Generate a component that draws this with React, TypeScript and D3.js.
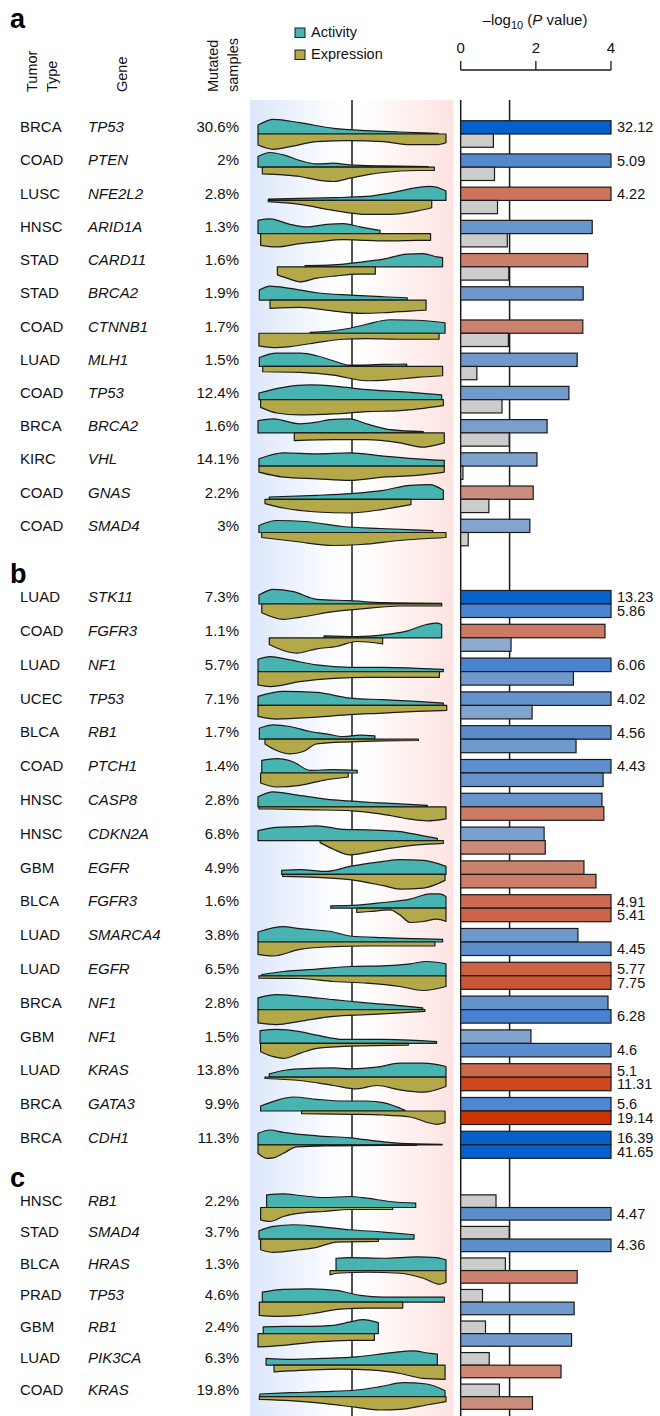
import React from "react";
import * as d3 from "d3";

const width = 660;
const height = 1416;

// rows, grouped in panels a / b / c
const panels = ["a", "b", "c"];
const panelSizes = [13, 17, 7];

const tumorTypes = [
  "BRCA", "COAD", "LUSC", "HNSC", "STAD", "STAD", "COAD", "LUAD", "COAD", "BRCA", "KIRC", "COAD", "COAD",
  "LUAD", "COAD", "LUAD", "UCEC", "BLCA", "COAD", "HNSC", "HNSC", "GBM", "BLCA", "LUAD", "LUAD", "BRCA", "GBM", "LUAD", "BRCA", "BRCA",
  "HNSC", "STAD", "BLCA", "PRAD", "GBM", "LUAD", "COAD",
];
const genes = [
  "TP53", "PTEN", "NFE2L2", "ARID1A", "CARD11", "BRCA2", "CTNNB1", "MLH1", "TP53", "BRCA2", "VHL", "GNAS", "SMAD4",
  "STK11", "FGFR3", "NF1", "TP53", "RB1", "PTCH1", "CASP8", "CDKN2A", "EGFR", "FGFR3", "SMARCA4", "EGFR", "NF1", "NF1", "KRAS", "GATA3", "CDH1",
  "RB1", "SMAD4", "HRAS", "TP53", "RB1", "PIK3CA", "KRAS",
];
const mutatedPct = [
  30.6, 2, 2.8, 1.3, 1.6, 1.9, 1.7, 1.5, 12.4, 1.6, 14.1, 2.2, 3,
  7.3, 1.1, 5.7, 7.1, 1.7, 1.4, 2.8, 6.8, 4.9, 1.6, 3.8, 6.5, 2.8, 1.5, 13.8, 9.9, 11.3,
  2.2, 3.7, 1.3, 4.6, 2.4, 6.3, 19.8,
];

// signed -log10(P): negative = lower (blue), positive = higher (red)
const activityP = [
  -32.12, -5.09, 4.22, -3.5, 3.38, -3.26, 3.25, -3.1, -2.88, -2.3, -2.03, 1.93, -1.84,
  -13.23, 3.84, -6.06, -4.02, -4.56, -4.43, -3.76, -2.22, 3.28, 4.91, -3.12, 5.77, -3.92, -1.87, 5.1, -5.6, -16.39,
  0.94, 1.29, 1.19, 0.58, 0.66, 0.76, 1.03,
];
const expressionP = [
  0.87, 0.9, 0.98, 1.24, 1.28, 0, 1.27, 0.43, 1.1, 1.29, 0.06, 0.75, 0.2,
  -5.86, -1.34, -3.0, -1.9, -3.07, -3.79, 3.81, 2.25, 3.6, 5.41, -4.45, 7.75, -6.28, -4.6, 11.31, 19.14, -41.65,
  -4.47, -4.36, 3.1, -3.02, -2.95, 2.67, 1.91,
];
const pTicks = [0, 2, 4];

// half-violin densities: [score (0-100), density]
const activityViolins = [
  [[0, 9], [8.2, 14.7], [22.3, 11.3], [40.1, 5.7], [57.8, 3.3], [75.5, 2], [95.9, 0.7]],
  [[0, 10.7], [6.4, 14.7], [13.5, 12.3], [22.3, 6.7], [31.2, 3.3], [40.1, 4], [48.9, 2.3], [66.7, 1.3], [90.6, 0.7]],
  [[5.5, 1.3], [22.3, 2], [40.1, 2.7], [57.8, 4], [70.2, 7.3], [84.4, 12.7], [91.5, 14], [98.6, 10.7], [100, 9.3]],
  [[0, 13.3], [6.4, 14.7], [17, 9.3], [25.9, 6.7], [36.5, 9.3], [45.4, 10], [54.3, 6.7], [64.9, 3.3]],
  [[25, 1.3], [40.1, 2], [52.5, 4.3], [66.7, 7.7], [79.1, 12.7], [87.9, 13.3], [95, 10], [98.2, 9.3]],
  [[0.7, 10], [6.4, 14], [17, 11.7], [31.2, 7.3], [48.9, 5], [66.7, 3.3], [79.4, 2.3]],
  [[27.7, 1], [40.1, 2.5], [48.9, 5], [57.8, 9], [70.2, 13.5], [84.4, 13], [99.5, 10.5]],
  [[0.7, 9], [9.9, 13.3], [22.3, 13.3], [31.2, 10.7], [40.1, 5.7], [48.9, 1.3], [66.7, 2], [79.1, 2.3]],
  [[0.5, 6.7], [13.5, 12.3], [27.7, 14.7], [41.8, 13.3], [57.8, 10], [75.5, 8], [97.7, 4.7]],
  [[0, 12.3], [8.2, 14], [22.3, 9], [31.2, 10.7], [38.3, 13.3], [48.9, 14], [57.8, 9], [70.2, 3.3], [87.9, 1.3]],
  [[0.5, 7.3], [13.5, 13.3], [31.2, 12.3], [48.9, 13.3], [66.7, 10], [84.4, 7.3], [99.1, 5.7]],
  [[6, 2.3], [31.2, 4], [48.9, 5.7], [66.7, 9], [80.9, 14], [91.5, 14.7], [98.6, 9]],
  [[0.5, 7], [10, 12], [25, 11], [45, 6], [65, 4], [93, 2]],

  [[0.5, 9], [8.2, 14.7], [18.8, 12.3], [31.2, 4.7], [48.9, 3.3], [66.7, 1.3], [97.7, 0.7]],
  [[35.1, 2], [52.5, 1.3], [66.7, 3], [79.1, 6.7], [89.7, 13.3], [95, 14.7], [97.7, 13.3]],
  [[0, 12.3], [6.4, 15], [17, 11.7], [31.2, 6.7], [48.9, 4.3], [66.7, 4.3], [84.4, 3.3], [98.6, 2.3]],
  [[0, 9], [13.5, 14], [31.2, 13], [48.9, 7.3], [66.7, 5.7], [84.4, 4], [98.6, 2.3]],
  [[0.7, 11], [8.2, 14.3], [17, 12.7], [27.7, 7.7], [36.5, 5.3], [45.4, 2.7], [54.3, 4], [62.2, 3.3]],
  [[2, 12.7], [9.9, 14.3], [18.8, 11], [27.7, 2.7], [40.1, 3.3], [52.8, 2.7]],
  [[0, 10], [8, 15], [20, 12], [35, 8], [55, 5], [75, 3], [90.1, 1.5]],
  [[0, 10], [9.9, 13.3], [22.3, 14], [31.2, 14.7], [45.4, 11.3], [57.8, 10.7], [75.5, 9], [87.9, 4.7], [95.4, 2.3]],
  [[12.6, 4], [22.3, 4.7], [36.5, 3], [48.9, 8], [66.7, 13], [75.5, 14.7], [87.9, 14], [100, 8]],
  [[38.7, 2.3], [52.5, 3], [66.7, 5.7], [80.9, 9], [91.5, 14.3], [96.8, 14.3], [100, 11.7]],
  [[0, 10], [13.5, 15.3], [22.3, 13.3], [40.1, 10], [48.9, 6], [66.7, 4.3], [84.4, 3.3], [98.2, 2.7]],
  [[2, 1.3], [13.5, 4.3], [31.2, 6.7], [48.9, 9.3], [66.7, 10], [80.9, 12], [89.7, 14.3], [100, 12]],
  [[0, 11.7], [9.9, 15], [22.3, 13.3], [40.1, 10], [57.8, 6.7], [75.5, 4], [87.6, 1.7]],
  [[1.1, 12.7], [9.9, 14], [22.3, 11.7], [31.2, 8.3], [45.4, 4], [66.7, 4], [80.9, 3.3], [95, 1.7]],
  [[6, 3.3], [13.5, 6.7], [22.3, 8.3], [40.1, 9.3], [48.9, 8.3], [63.1, 10], [75.5, 14], [87.9, 14], [100, 10.7]],
  [[1.4, 5], [9.9, 10.7], [18.8, 14], [31.2, 11.7], [45.4, 10], [57.8, 10], [66.7, 8.3], [78.2, 0.7]],
  [[0, 11.5], [6.4, 14.8], [13.5, 12.5], [31.2, 9], [48.9, 7], [66.7, 3], [75.5, 1.5], [98, 0.5]],

  [[4.6, 12.7], [13.5, 13.7], [22.3, 12], [34.8, 10], [48.9, 11], [57.8, 9.3], [70.2, 6], [83.9, 4.3]],
  [[0.5, 8.3], [8.2, 12.7], [18.8, 14.3], [31.2, 12.7], [48.9, 9.3], [66.7, 7], [83, 4.3]],
  [[41.5, 12.3], [48.9, 13], [66.7, 12.3], [84.4, 13.7], [95, 13], [100, 10.7]],
  [[2.3, 10], [13.5, 12.7], [27.7, 13.3], [41.8, 11.7], [54.3, 6.7], [66.7, 5], [84.4, 5], [99.1, 5]],
  [[2.8, 6.7], [13.5, 7.3], [27.7, 7.3], [40.1, 8.3], [48.9, 11.7], [56, 14], [64, 11]],
  [[4.3, 6.7], [17, 5.7], [34.8, 6.7], [52.5, 8.3], [70.2, 12.3], [82.6, 14.3], [91.5, 11.7], [95.4, 11]],
  [[1, 2.7], [17, 4], [34.8, 5], [52.5, 6.7], [65, 10], [77.3, 14], [89.7, 12.7], [99.5, 6]],
];

const expressionViolins = [
  [[0, 11], [8.2, 15.3], [17, 12.7], [31.2, 7.7], [48.9, 6.7], [66.7, 7.7], [80.9, 10.7], [95, 10.7], [100, 8.7]],
  [[2.3, 6.7], [13.5, 7.7], [22.3, 9.3], [31.2, 12.7], [40.1, 14.3], [48.9, 11], [57.8, 7.7], [66.7, 5.3], [84.4, 3.3], [93.8, 3.3]],
  [[5.5, 1.3], [22.3, 4], [40.1, 10], [57.8, 14], [70.2, 14], [84.4, 10.7], [92.4, 7.3]],
  [[1.4, 11.7], [9.9, 13.3], [22.3, 10], [31.2, 8.3], [45.4, 6], [57.8, 6.7], [70.2, 7.3], [84.4, 6.7], [91.8, 6.7]],
  [[10.3, 8], [17, 12.3], [22.3, 15], [31.2, 11.3], [41.8, 9], [52.5, 7.3], [62.4, 7.3]],
  [[6.4, 8.3], [22.3, 7.3], [40.1, 11], [54.3, 13.3], [66.7, 12.7], [80.9, 11], [89.4, 10]],
  [[0.5, 12.7], [8.2, 14.3], [17, 13.3], [31.2, 9.3], [45.4, 6], [57.8, 5.3], [75.5, 6], [96.3, 6]],
  [[2.5, 5.3], [22.3, 6], [40.1, 8.7], [57.8, 14.3], [70.2, 13.3], [84.4, 11], [98.2, 9.3]],
  [[1.4, 7.7], [9.9, 13.3], [22.3, 15.3], [40.1, 14.3], [57.8, 12], [75.5, 11], [98.6, 6]],
  [[19.3, 7.7], [40.1, 6.7], [57.8, 6.7], [75.5, 10], [87.9, 14.3], [95, 12], [99.1, 10]],
  [[0.5, 6], [13.5, 11], [31.2, 12.7], [48.9, 14.3], [66.7, 11], [84.4, 9.3], [99.1, 6]],
  [[3.7, 4.3], [13.5, 8.7], [31.2, 12.7], [48.9, 13.7], [66.7, 10], [81.4, 5.3]],
  [[2, 5], [20, 9], [40, 13], [55, 12], [75, 8], [100, 5]],

  [[2, 8.7], [13.5, 15.3], [22.3, 13.3], [40.1, 7.7], [57.8, 4.3], [75.5, 2], [97.7, 2]],
  [[6, 6.7], [13.5, 12.7], [20.6, 15.3], [31.2, 11], [41.8, 8.7], [52.5, 3.7], [66.3, 6]],
  [[0, 13.3], [6.4, 15], [22.3, 10], [40.1, 6.7], [57.8, 5.7], [75.5, 5.7], [96.5, 5.7]],
  [[0, 11], [9.9, 13.7], [31.2, 11.7], [48.9, 9.3], [66.7, 7.7], [84.4, 6], [100.4, 5]],
  [[3.7, 4.7], [9.9, 11.3], [17, 14.7], [24.1, 12.3], [31.2, 4.7], [48.9, 2.7], [66.7, 1.7], [85.3, 1.3]],
  [[1.4, 10], [9.9, 14], [22.3, 12.3], [34.8, 7.3], [48, 4]],
  [[0.5, 2], [30, 3], [50, 4], [65, 7], [80, 12], [90, 14], [100, 12]],
  [[33, 2], [40.1, 8.7], [48.9, 14.3], [57.8, 12], [70.2, 7.7], [84.4, 4.3], [98.6, 2.7]],
  [[13.1, 2], [31.2, 3], [48.9, 5.3], [66.7, 11.3], [75.5, 14.7], [87.9, 13.7], [99.5, 6]],
  [[52.5, 4.3], [59.6, 3.3], [70.2, 1.7], [75.5, 6.7], [80.9, 14.3], [87.9, 13.3], [95, 11], [100, 13.3]],
  [[0, 12.3], [8.2, 14], [22.3, 7.3], [40.1, 4.7], [57.8, 4], [75.5, 4], [94.1, 4]],
  [[0.5, 2.3], [22.3, 2.7], [40.1, 5.7], [57.8, 7.3], [75.5, 10.7], [87.9, 14.7], [100, 10.7]],
  [[0, 13.3], [9.9, 15], [22.3, 11.7], [40.1, 6.7], [57.8, 5], [75.5, 3.3], [88.8, 1.7]],
  [[1.4, 8.3], [8.2, 13.3], [13.5, 15], [22.3, 10], [31.2, 5], [48.9, 2.7], [80, 1.7]],
  [[3.7, 1.3], [22.3, 3.3], [40.1, 8.3], [52.5, 11.7], [63.1, 8.3], [75.5, 12.7], [87.9, 15], [100, 9.3]],
  [[23.2, 2.7], [48.9, 3.3], [66.7, 4], [80.9, 6], [95, 13.3], [99.5, 11.7]],
  [[0, 8.5], [4.6, 13.5], [8.2, 13], [13.5, 8.5], [20.6, 2], [40.1, 1], [66.7, 0.5], [84.4, 0.5]],

  [[1.4, 12.3], [6.4, 14], [13.5, 9], [22.3, 5.7], [34.8, 4], [48.9, 2], [71.6, 2]],
  [[1.4, 10.7], [8.2, 13.3], [22.3, 10.7], [31.2, 8.3], [41.8, 3], [64, 2.3]],
  [[38.3, 4.3], [41.8, 2.7], [57.8, 1.7], [75.5, 2.7], [87.9, 7.7], [96.8, 13.7], [100, 11.7]],
  [[0.7, 13.3], [9.9, 14.3], [22.3, 13.3], [31.2, 10.7], [45.4, 6.7], [57.8, 6], [77, 6]],
  [[0, 13.3], [13.5, 11.7], [31.2, 8.3], [48.9, 6.7], [61.9, 6.7]],
  [[8.5, 6.7], [25.9, 5], [43.6, 4], [61.3, 5], [75.5, 8.3], [88, 13.3], [99.5, 14.3]],
  [[0.7, 2.7], [17, 4], [34.8, 6.7], [52.5, 10.7], [65, 13.3], [75.5, 12.7], [89.7, 8.3], [100, 5]],
];

const font = "'Liberation Sans', Arial, Helvetica, sans-serif";
const teal = "#47b4b1";
const olive = "#b3a84a";
const ink = "#1a1a1a";

// vertical placement of each panel's rows (violin baseline / bar boundary)
const panelFirst = [134, 604, 1207.5];
const panelLast = [532.5, 1144.8, 1396.7];
const panelLabelY = [28, 583, 1187];

const rows = tumorTypes.map((t, i) => {
  let p = 0;
  let k = i;
  while (k >= panelSizes[p]) {
    k -= panelSizes[p];
    p += 1;
  }
  const y = d3.scaleLinear().domain([0, panelSizes[p] - 1]).range([panelFirst[p], panelLast[p]])(k);
  const step = (panelLast[p] - panelFirst[p]) / (panelSizes[p] - 1);
  return { i, p, y, step };
});

const xV = d3.scaleLinear().domain([0, 100]).range([258, 446]);
const hV = d3.scaleLinear().domain([0, 15]).range([0, 15]);
const xB = d3.scaleLinear().domain([0, 4]).range([460.7, 611]).clamp(true);

const blue = d3
  .scaleLog<string>()
  .domain([1.3, 3.5, 6, 14])
  .range(["#8eaccf", "#6b96cc", "#4a84cf", "#0560cc"])
  .clamp(true);
const red = d3
  .scaleLog<string>()
  .domain([1.3, 3.5, 6, 11.3, 19])
  .range(["#cc9888", "#cc7f6a", "#cc5f40", "#cc4620", "#cc3300"])
  .clamp(true);

const barColor = (v: number) => {
  const a = Math.abs(v);
  if (a < 1.3) return "#cccccc";
  return v < 0 ? blue(a) : red(a);
};

const violinPath = (pts: number[][], base: number, dir: number) =>
  d3
    .area<number[]>()
    .x((d) => xV(d[0]))
    .y0(base)
    .y1((d) => base - dir * hV(d[1]))
    .curve(d3.curveMonotoneX)(pts) || "";

export default function App() {
  const top = 100;
  return (
    <div style={{ position: "absolute", left: 0, top: 0 }}>
      <svg width={width} height={height} fontFamily={font} style={{ display: "block" }}>
        <defs>
          <linearGradient id="bg" x1="0" x2="1" y1="0" y2="0">
            <stop offset="0" stopColor="#dce7fb" />
            <stop offset="0.45" stopColor="#ffffff" />
            <stop offset="0.55" stopColor="#ffffff" />
            <stop offset="1" stopColor="#fde3e1" />
          </linearGradient>
        </defs>
        <rect x={250} y={top} width={203.3} height={height - top} fill="url(#bg)" />

        {/* reference lines */}
        <line x1={xV(50)} x2={xV(50)} y1={top} y2={height} stroke={ink} strokeWidth={1.5} />
        <line x1={xB(0)} x2={xB(0)} y1={top} y2={height} stroke={ink} strokeWidth={1.5} />
        <line x1={xB(1.301)} x2={xB(1.301)} y1={top} y2={height} stroke={ink} strokeWidth={1.5} />

        {/* panel letters */}
        {panels.map((p, j) => (
          <text key={p} x={10} y={panelLabelY[j]} fontSize={27} fontWeight="bold" fill="#000">
            {p}
          </text>
        ))}

        {/* column headers */}
        <g fontSize={14.5} fill="#111">
          <text transform="translate(37,92) rotate(-90)">Tumor</text>
          <text transform="translate(57,92) rotate(-90)">Type</text>
          <text transform="translate(127,92) rotate(-90)">Gene</text>
          <text transform="translate(218,92) rotate(-90)">Mutated</text>
          <text transform="translate(238,92) rotate(-90)">samples</text>
        </g>

        {/* legend */}
        <g fontSize={14.5} fill="#111">
          <rect x={295} y={28} width={10} height={9.5} fill={teal} stroke={ink} />
          <text x={311} y={33} dy="0.3em">Activity</text>
          <rect x={295} y={50} width={10} height={9.5} fill={olive} stroke={ink} />
          <text x={311} y={55} dy="0.3em">Expression</text>
        </g>

        {/* p-value axis */}
        <g fontSize={15} fill="#111">
          <text x={535} y={25} textAnchor="middle">
            –log
            <tspan dy={4} fontSize={11}>10</tspan>
            <tspan dy={-4}> (</tspan>
            <tspan fontStyle="italic">P</tspan>
            <tspan> value)</tspan>
          </text>
          <line x1={xB(0)} x2={xB(4)} y1={70} y2={70} stroke={ink} strokeWidth={1.3} />
          {pTicks.map((t) => (
            <g key={t}>
              <line x1={xB(t)} x2={xB(t)} y1={61} y2={70} stroke={ink} strokeWidth={1.3} />
              <text x={xB(t)} y={53} textAnchor="middle">
                {t}
              </text>
            </g>
          ))}
        </g>

        {/* rows */}
        {rows.map(({ i, y, step }) => {
          const bh = step * 0.4;
          const bars = [
            { v: activityP[i], y0: y - bh },
            { v: expressionP[i], y0: y },
          ];
          return (
            <g key={i}>
              <g fontSize={15} fill="#111">
                <text x={20} y={y - 7} dy="0.35em">{tumorTypes[i]}</text>
                <text x={88} y={y - 7} dy="0.35em" fontStyle="italic">{genes[i]}</text>
                <text x={239} y={y - 7} dy="0.35em" textAnchor="end">{`${mutatedPct[i]}%`}</text>
              </g>
              <path d={violinPath(activityViolins[i], y, 1)} fill={teal} stroke={ink} strokeWidth={1.2} strokeLinejoin="round" />
              <path d={violinPath(expressionViolins[i], y, -1)} fill={olive} stroke={ink} strokeWidth={1.2} strokeLinejoin="round" />
              {bars.map((b, j) =>
                Math.abs(b.v) > 0.02 ? (
                  <g key={j}>
                    <rect
                      x={xB(0)}
                      y={b.y0}
                      width={xB(Math.abs(b.v)) - xB(0)}
                      height={bh}
                      fill={barColor(b.v)}
                      stroke={ink}
                      strokeWidth={1.2}
                    />
                    {Math.abs(b.v) > 4 && (
                      <text x={617} y={b.y0 + bh / 2} dy="0.35em" fontSize={14.5} fill="#111">
                        {String(Math.abs(b.v))}
                      </text>
                    )}
                  </g>
                ) : null
              )}
            </g>
          );
        })}
      </svg>
    </div>
  );
}
